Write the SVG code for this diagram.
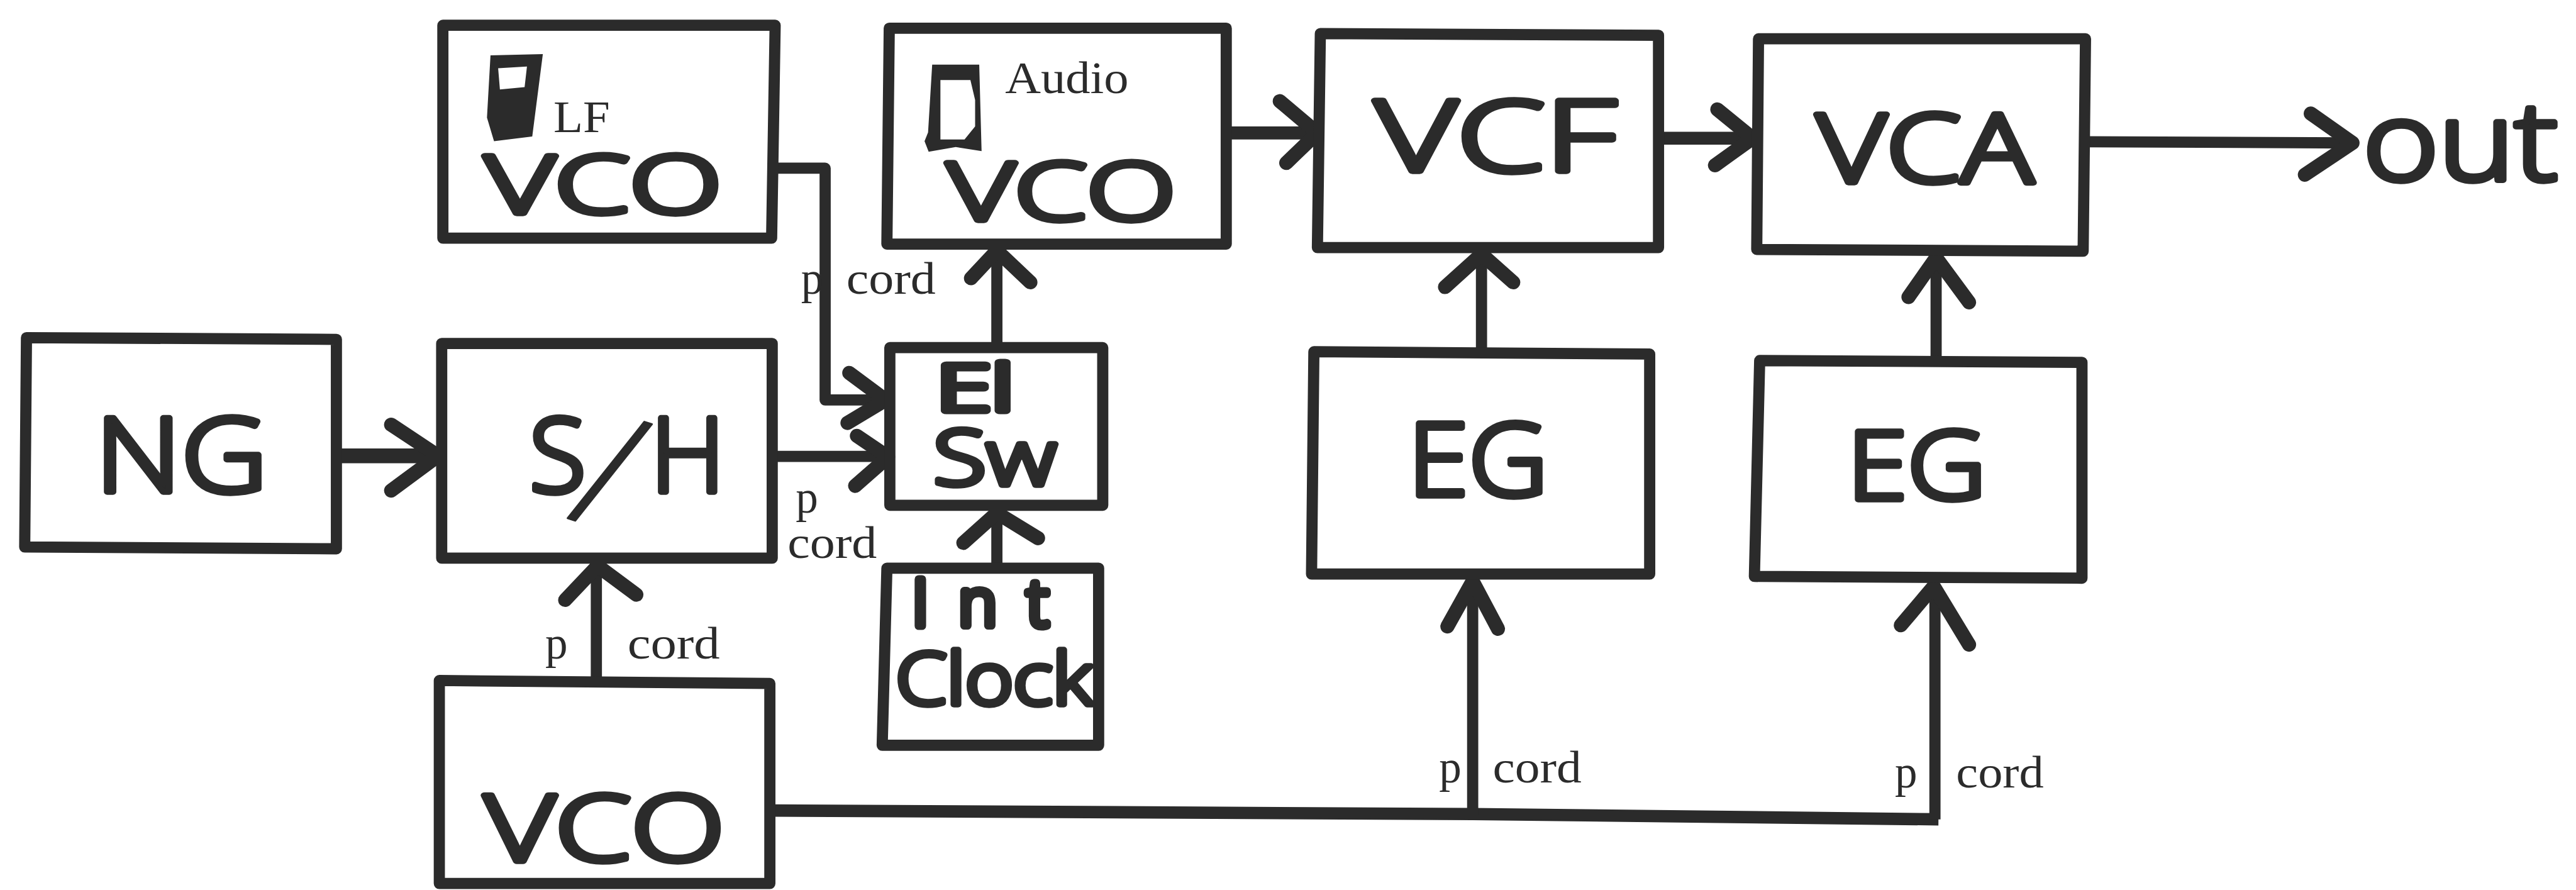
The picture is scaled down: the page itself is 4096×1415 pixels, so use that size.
<svg xmlns="http://www.w3.org/2000/svg" width="4096" height="1415" viewBox="0 0 4096 1415">
<style>
.box{fill:none;stroke:#2b2b2b;stroke-width:19;stroke-linejoin:round}
.ln{fill:none;stroke:#2b2b2b;stroke-width:19;stroke-linejoin:round;stroke-linecap:butt}
.hd{fill:none;stroke:#2b2b2b;stroke-width:24;stroke-linejoin:round;stroke-linecap:round}
.big{font-family:"Open Sans","Liberation Sans",sans-serif;font-weight:300;fill:#2b2b2b;stroke:#2b2b2b;stroke-width:10;stroke-linejoin:round;stroke-linecap:round}
.sm{font-family:"Liberation Serif","Times New Roman",serif;fill:#2b2b2b;font-size:76px}
.ic{fill:#2b2b2b;fill-rule:evenodd}
</style>
<rect width="4096" height="1415" fill="#fff"/>
<g transform="scale(0.93516)">
<g id="connectors">
<path class="ln" d="M1316 286H1403V680H1500"/><path class="hd" d="M1444 634L1506 680L1441 719"/>
<path class="ln" d="M1314 776H1500"/><path class="hd" d="M1457 741L1510 777L1454 826"/>
<path class="ln" d="M1695 966V870"/><path class="hd" d="M1638 923L1695 872L1765 915"/>
<path class="ln" d="M1695 591V430"/><path class="hd" d="M1651 473L1695 426L1752 480"/>
<path class="ln" style="stroke-width:22" d="M2085 226H2235"/><path class="hd" d="M2176 172L2240 226L2187 277"/>
<path class="ln" style="stroke-width:22" d="M2820 235H2975"/><path class="hd" d="M2920 186L2980 235L2916 281"/>
<path class="ln" d="M2519 598V435"/><path class="hd" d="M2457 488L2519 432L2573 480"/>
<path class="ln" d="M3292 613V440"/><path class="hd" d="M3245 505L3292 438L3348 514"/>
<path class="ln" d="M3546 241L3995 243"/><path class="hd" d="M3929 193L4000 243L3919 297"/>
<path class="ln" d="M1014 1157V965"/><path class="hd" d="M961 1020L1016 962L1082 1011"/>
<path class="ln" style="stroke-width:25" d="M572 775H745"/><path class="hd" d="M665 722L745 775L665 834"/>
<path class="ln" style="stroke-width:21" d="M1309 1378L2504 1384L3296 1393"/>
<path class="ln" d="M2504 1385V995"/><path class="hd" d="M2461 1065L2504 988L2547 1069"/>
<path class="ln" d="M3290 1393V1000"/><path class="hd" d="M3232 1063L3288 997L3348 1096"/>
</g>
<g id="lf-vco">
<path class="box" d="M753 43H1318L1312 405H753Z"/>
<path class="ic" d="M834 94L923 92L905 232L840 240L828 200ZM847 116L896 113L892 148L850 152Z"/>
<text class="sm" x="941" y="225" textLength="96" lengthAdjust="spacingAndGlyphs">LF</text>
<text class="big" x="825" y="362" font-size="136" textLength="402" lengthAdjust="spacingAndGlyphs">VCO</text>
</g>
<g id="audio-vco">
<path class="box" d="M1512 48H2085V415H1508Z"/>
<path class="ic" d="M1585 110H1665L1669 257L1625 250L1579 258L1572 240L1578 225ZM1599 136H1650L1658 170V215L1640 237H1599Z"/>
<text class="sm" x="1709" y="158" textLength="210" lengthAdjust="spacingAndGlyphs">Audio</text>
<text class="big" x="1611" y="374" font-size="136" textLength="388" lengthAdjust="spacingAndGlyphs">VCO</text>
</g>
<g id="vcf">
<path class="box" d="M2245 57L2820 60V421H2240Z"/>
<text class="big" x="2338" y="291" font-size="168" textLength="410" lengthAdjust="spacingAndGlyphs">VCF</text>
</g>
<g id="vca">
<path class="box" d="M2990 66H3546L3542 427L2987 424Z"/>
<text class="big" x="3089" y="310" font-size="162" textLength="368" lengthAdjust="spacingAndGlyphs">VCA</text>
</g>
<g id="ng">
<path class="box" d="M45 574L572 577V933L42 930Z"/>
<text class="big" x="162" y="836" font-size="176" textLength="293" lengthAdjust="spacingAndGlyphs">NG</text>
</g>
<g id="sh">
<path class="box" d="M751 584H1313V949H751Z"/>
<text class="big" font-size="176" y="836"><tspan x="900">S</tspan><tspan x="962" y="880" font-size="275" rotate="18" style="stroke-width:3">/</tspan><tspan x="1106" y="836" font-size="176">H</tspan></text>
</g>
<g id="el-sw">
<path class="box" d="M1513 591H1875V859H1513Z"/>
<text class="big" style="stroke-width:12" x="1592" y="698" font-size="108" textLength="132" lengthAdjust="spacingAndGlyphs">El</text>
<text class="big" x="1587" y="825" font-size="130" textLength="209" lengthAdjust="spacingAndGlyphs">Sw</text>
</g>
<g id="int-clock">
<path class="box" d="M1508 966H1868V1267H1500Z"/>
<text class="big" style="stroke-width:14" x="1551" y="1064" font-size="110" textLength="232" lengthAdjust="spacing">Int</text>
<text class="big" x="1523" y="1198" font-size="122" textLength="334" lengthAdjust="spacingAndGlyphs">Clock</text>
</g>
<g id="bottom-vco">
<path class="box" d="M747 1157L1309 1162V1502H747Z"/>
<text class="big" x="824" y="1464" font-size="155" textLength="408" lengthAdjust="spacingAndGlyphs">VCO</text>
</g>
<g id="eg-1">
<path class="box" d="M2234 598L2805 602V976H2230Z"/>
<text class="big" x="2394" y="843" font-size="172" textLength="238" lengthAdjust="spacingAndGlyphs">EG</text>
</g>
<g id="eg-2">
<path class="box" d="M2992 613L3540 616V983L2983 980Z"/>
<text class="big" x="3141" y="849" font-size="162" textLength="236" lengthAdjust="spacingAndGlyphs">EG</text>
</g>
<g id="out">
<text class="big" x="4018" y="306" font-size="186" textLength="331" lengthAdjust="spacingAndGlyphs">out</text>
</g>
<g id="labels">
<text class="sm"><tspan x="1362" y="499">p</tspan> <tspan x="1439" y="499" textLength="152" lengthAdjust="spacingAndGlyphs">cord</tspan></text>
<text class="sm"><tspan x="1353" y="872">p</tspan> <tspan x="1339" y="948" textLength="152" lengthAdjust="spacingAndGlyphs">cord</tspan></text>
<text class="sm"><tspan x="927" y="1120">p</tspan> <tspan x="1067" y="1120" textLength="157" lengthAdjust="spacingAndGlyphs">cord</tspan></text>
<text class="sm"><tspan x="2447" y="1330">p</tspan> <tspan x="2538" y="1330" textLength="151" lengthAdjust="spacingAndGlyphs">cord</tspan></text>
<text class="sm"><tspan x="3222" y="1339">p</tspan> <tspan x="3326" y="1339" textLength="149" lengthAdjust="spacingAndGlyphs">cord</tspan></text>
</g>
</g>
</svg>
